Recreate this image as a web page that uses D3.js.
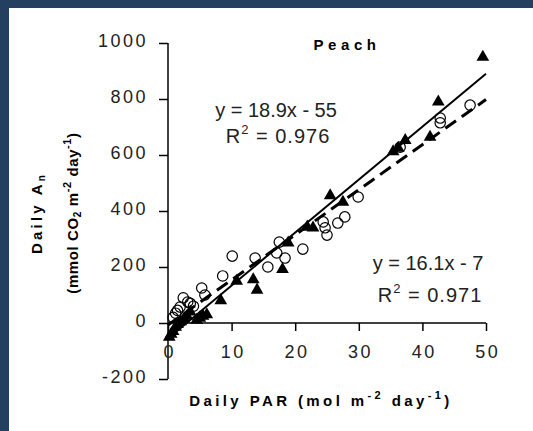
<!DOCTYPE html>
<html>
<head>
<meta charset="utf-8">
<script src="https://cdn.jsdelivr.net/npm/d3@7.9.0/dist/d3.min.js"></script>
<style>
  body { margin: 0; background: #fff; }
  svg { display: block; font-family: "Liberation Sans", Arial, sans-serif; }
</style>
</head>
<body>
<svg id="chart" width="533" height="431"></svg>
<script>
// Triangle series (solid fit)
const triangles = [
  [0.2, -50], [0.5, -40], [0.8, -30], [1.2, -15], [1.5, -5], [2, 5], [2.5, 15],
  [3, 25], [3.5, 40], [4.5, 10], [5, 18], [5.5, 25], [6.1, 30], [8.3, 80],
  [10.8, 150], [13.4, 155], [14, 118], [18, 192], [18.9, 286], [21.9, 343],
  [22.8, 340], [25.5, 455], [27.5, 432], [35.4, 612], [36.2, 625], [37.3, 652],
  [41.2, 664], [42.5, 790], [49.5, 950]
];

// Circle series (dashed fit)
const circles = [
  [0.8, 20], [1.2, 35], [1.5, 45], [1.9, 57], [2.4, 90], [3.1, 75], [3.5, 70],
  [4, 60], [5.3, 125], [5.8, 100], [8.6, 168], [10.1, 239], [13.7, 232],
  [15.7, 200], [17.1, 250], [17.5, 289], [18.4, 232], [21.2, 264], [24.4, 361],
  [24.7, 340], [25, 314], [26.7, 357], [27.8, 379], [29.9, 450], [36.5, 628],
  [42.8, 732], [42.8, 715], [47.5, 778]
];

const fitSolid = { slope: 18.9, intercept: -55 };
const fitDashed = { slope: 16.1, intercept: -7 };

const xTicks = [0, 10, 20, 30, 40, 50];
const yTicks = [-200, 0, 200, 400, 600, 800, 1000];

const svg = d3.select('#chart');

// navy frame
svg.append('rect').attr('x', 0).attr('y', 0).attr('width', 533).attr('height', 8).attr('fill', '#243f60');
svg.append('rect').attr('x', 0).attr('y', 0).attr('width', 9).attr('height', 431).attr('fill', '#243f60');

const x = d3.scaleLinear().domain([0, 50]).range([168, 486]);
const y = d3.scaleLinear().domain([-200, 1000]).range([379, 43]);

// y axis
const yAxis = svg.append('g')
  .attr('transform', `translate(${x(0)},0)`)
  .call(d3.axisLeft(y).tickValues(yTicks).tickSize(9).tickFormat(d => String(d)));

// x axis at y = 0
const xAxis = svg.append('g')
  .attr('transform', `translate(0,${y(0)})`)
  .call(d3.axisBottom(x).tickValues(xTicks).tickSize(8).tickFormat(d => String(d)));

[yAxis, xAxis].forEach(g => {
  g.select('.domain').attr('stroke', '#000').attr('stroke-width', 1.5);
  g.selectAll('.tick line').attr('stroke', '#000').attr('stroke-width', 1.5);
  g.selectAll('.tick text')
    .attr('fill', '#222')
    .style('font-size', '18px')
    .style('letter-spacing', '2.5px');
});
yAxis.selectAll('.tick text').attr('x', -20).attr('dy', '0.2em');
xAxis.selectAll('.tick text').attr('y', 22).attr('dx', '1.25px');
// remove outer ticks from the domain path
yAxis.select('.domain').attr('d', `M0,${y(-200)}V${y(1000)}`);
xAxis.select('.domain').attr('d', `M${x(0)},0H${x(50)}`);

// fit lines
const line = d3.line().x(d => x(d[0])).y(d => y(d[1]));
const fitPts = f => [0, 50].map(v => [v, f.slope * v + f.intercept]);

svg.append('path')
  .attr('d', line(fitPts(fitDashed)))
  .attr('fill', 'none').attr('stroke', '#000')
  .attr('stroke-width', 3).attr('stroke-dasharray', '13,7');

svg.append('path')
  .attr('d', line(fitPts(fitSolid)))
  .attr('fill', 'none').attr('stroke', '#000')
  .attr('stroke-width', 2);

// circles
svg.append('g').selectAll('circle')
  .data(circles).join('circle')
  .attr('cx', d => x(d[0])).attr('cy', d => y(d[1]))
  .attr('r', 5.2)
  .attr('fill', 'none').attr('stroke', '#000').attr('stroke-width', 1.2);

// triangles
const tri = d3.symbol().type(d3.symbolTriangle).size(70);
svg.append('g').selectAll('path')
  .data(triangles).join('path')
  .attr('d', tri)
  .attr('transform', d => `translate(${x(d[0])},${y(d[1])})`)
  .attr('fill', '#000');

// texts
svg.append('text')
  .attr('x', 347).attr('y', 50)
  .attr('text-anchor', 'middle')
  .style('font-size', '15px').style('font-weight', 'bold').style('letter-spacing', '4.6px')
  .text('Peach');

function eqText(cx, cy, gap, eq, r2) {
  svg.append('text')
    .attr('x', cx).attr('y', cy)
    .attr('text-anchor', 'middle').attr('fill', '#222')
    .style('font-size', '20px')
    .text(eq);
  const t = svg.append('text')
    .attr('x', cx + 2).attr('y', cy + gap)
    .attr('text-anchor', 'middle').attr('fill', '#222')
    .style('font-size', '20px').style('letter-spacing', '1px');
  t.append('tspan').text('R');
  t.append('tspan').attr('dy', -9).style('font-size', '13px').text('2');
  t.append('tspan').attr('dy', 9).text(' = ' + r2);
}
eqText(276, 117, 26, 'y = 18.9x - 55', '0.976');
eqText(428, 270, 32, 'y = 16.1x - 7', '0.971');

// x axis label
const xl = svg.append('text')
  .attr('x', 321).attr('y', 406)
  .attr('text-anchor', 'middle')
  .style('font-size', '15px').style('font-weight', 'bold').style('letter-spacing', '3.4px');
xl.append('tspan').text('Daily PAR (mol m');
xl.append('tspan').attr('dy', -7).style('font-size', '11px').text('-2');
xl.append('tspan').attr('dy', 7).text(' day');
xl.append('tspan').attr('dy', -7).style('font-size', '11px').text('-1');
xl.append('tspan').attr('dy', 7).text(')');

// y axis labels
const yl1 = svg.append('text')
  .attr('transform', 'translate(42,213) rotate(-90)')
  .attr('text-anchor', 'middle')
  .style('font-size', '15px').style('font-weight', 'bold').style('letter-spacing', '3.2px');
yl1.append('tspan').text('Daily A');
yl1.append('tspan').attr('dy', 3).style('font-size', '10px').text('n');

const yl2 = svg.append('text')
  .attr('transform', 'translate(78,213) rotate(-90)')
  .attr('text-anchor', 'middle')
  .style('font-size', '15px').style('font-weight', 'bold').style('letter-spacing', '0.6px');
yl2.append('tspan').text('(mmol CO');
yl2.append('tspan').attr('dy', 3).style('font-size', '10px').text('2');
yl2.append('tspan').attr('dy', -3).text(' m');
yl2.append('tspan').attr('dy', -7).style('font-size', '11px').text('-2');
yl2.append('tspan').attr('dy', 7).text(' day');
yl2.append('tspan').attr('dy', -7).style('font-size', '11px').text('-1');
yl2.append('tspan').attr('dy', 7).text(')');
</script>
</body>
</html>
